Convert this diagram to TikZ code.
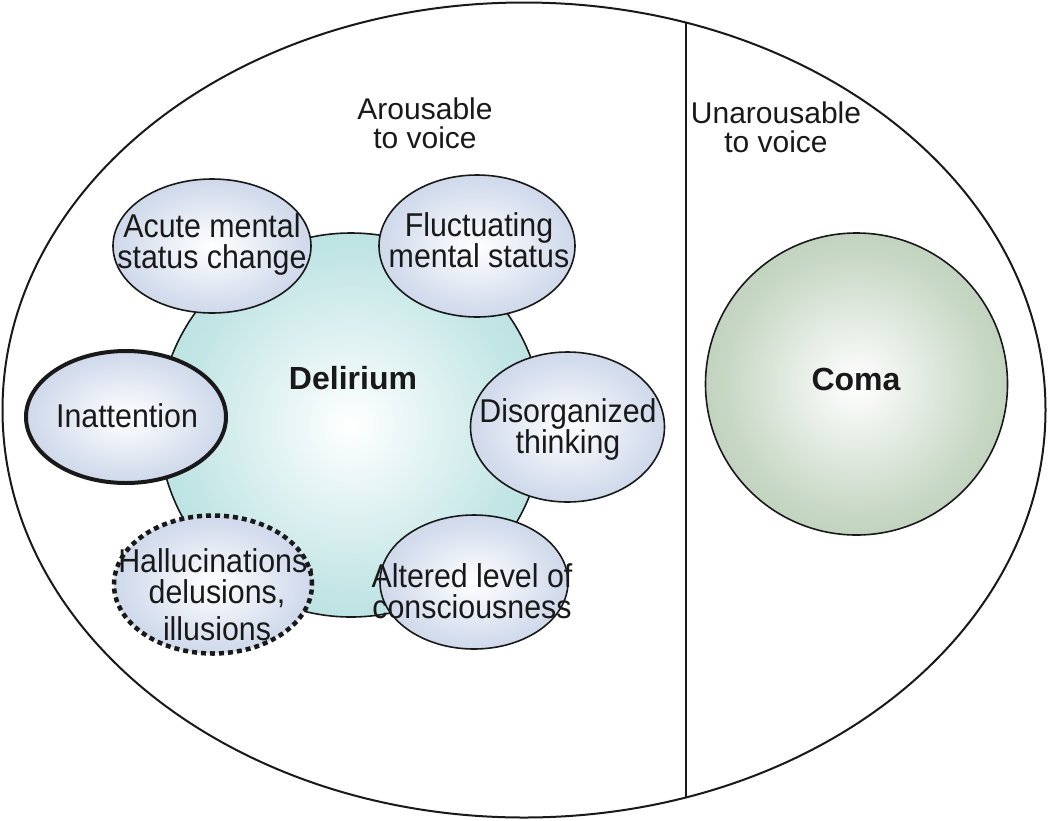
\documentclass[tikz,border=0pt]{standalone}
\usepackage{fontspec}
\setmainfont{Liberation Sans}
\newfontfamily\condfont[FakeStretch=0.92]{Liberation Sans}
\usetikzlibrary{shapes.geometric}
\definecolor{bubedge}{RGB}{168,186,218}
\definecolor{deledge}{RGB}{145,208,208}
\definecolor{comaedge}{RGB}{160,188,156}
\definecolor{ink}{RGB}{25,25,25}
\pgfdeclareradialshading{bubshade}{\pgfpointorigin}{color(0bp)=(white); color(22bp)=(bubedge!50!white); color(50bp)=(bubedge); color(75bp)=(bubedge)}
\pgfdeclareradialshading{delshade}{\pgfpointorigin}{color(0bp)=(white); color(22bp)=(deledge!55!white); color(50bp)=(deledge); color(75bp)=(deledge)}
\pgfdeclareradialshading{comashade}{\pgfpointorigin}{color(0bp)=(white); color(22bp)=(comaedge!60!white); color(50bp)=(comaedge); color(75bp)=(comaedge)}
\tikzset{
  bubble/.style={ellipse, draw=ink, line width=1.6pt, shade, shading=bubshade, inner sep=0pt},
  lbl/.style={font=\condfont\fontsize{33}{31}\selectfont, text=ink, align=center, inner sep=0pt, anchor=base},
  head/.style={font=\fontsize{30}{28.5}\selectfont, text=ink, align=center, inner sep=0pt, anchor=base},
  boldlbl/.style={font=\bfseries\fontsize{32}{32}\selectfont, text=ink, inner sep=0pt, anchor=base},
}
\begin{document}
\begin{tikzpicture}[x=1pt,y=-1pt]
\useasboundingbox (0,0) rectangle (1049,820);
% outer ellipse and divider
\node[ellipse, draw=ink, line width=2pt, minimum width=1043pt, minimum height=815pt, inner sep=0pt] (outer) at (524,410) {};
\coordinate (divtop) at (686,22);
\coordinate (divbot) at (686,798);
\draw[ink, line width=2.4pt] (divtop) -- (divbot);
% headings (base anchor = last line)
\node[head] (arous) at (425,148) {Arousable\\to voice};
\node[head] (unarous) at (776,152) {Unarousable\\to voice};
% delirium circle
\node[circle, draw=ink, line width=1.6pt, shade, shading=delshade, minimum size=384pt, inner sep=0pt] (delirium) at (351,425) {};
\node[boldlbl] (delT) at (353,389) {Delirium};
% coma circle
\node[circle, draw=ink, line width=1.6pt, shade, shading=comashade, minimum size=302pt, inner sep=0pt] (coma) at (856.5,384) {};
\node[boldlbl] (comaT) at (856,390) {Coma};
% features
\node[bubble, minimum width=198pt, minimum height=134pt] (acute) at (212,246) {};
\node[lbl] (acuteT) at (212,268) {Acute mental\\status change};
\node[bubble, minimum width=196pt, minimum height=142pt] (fluct) at (477,246) {};
\node[lbl] (fluctT) at (479,267) {Fluctuating\\mental status};
\node[bubble, line width=4pt, minimum width=200pt, minimum height=132pt] (inatt) at (126,417) {};
\node[lbl] (inattT) at (127,427) {Inattention};
\node[bubble, minimum width=194pt, minimum height=150pt] (disorg) at (567.5,427) {};
\node[lbl] (disorgT) at (568,453) {Disorganized\\thinking};
\node[bubble, line width=4.5pt, dash pattern=on 5pt off 4pt, minimum width=198pt, minimum height=138pt] (halluc) at (213,584.5) {};
\node[lbl] (hallT) at (217,640) {Hallucinations,\\delusions,\\[6pt]illusions};
\node[bubble, minimum width=188pt, minimum height=134pt] (altered) at (474,582) {};
\node[lbl] (altT) at (472,618) {Altered level of\\consciousness};
\end{tikzpicture}
\end{document}
